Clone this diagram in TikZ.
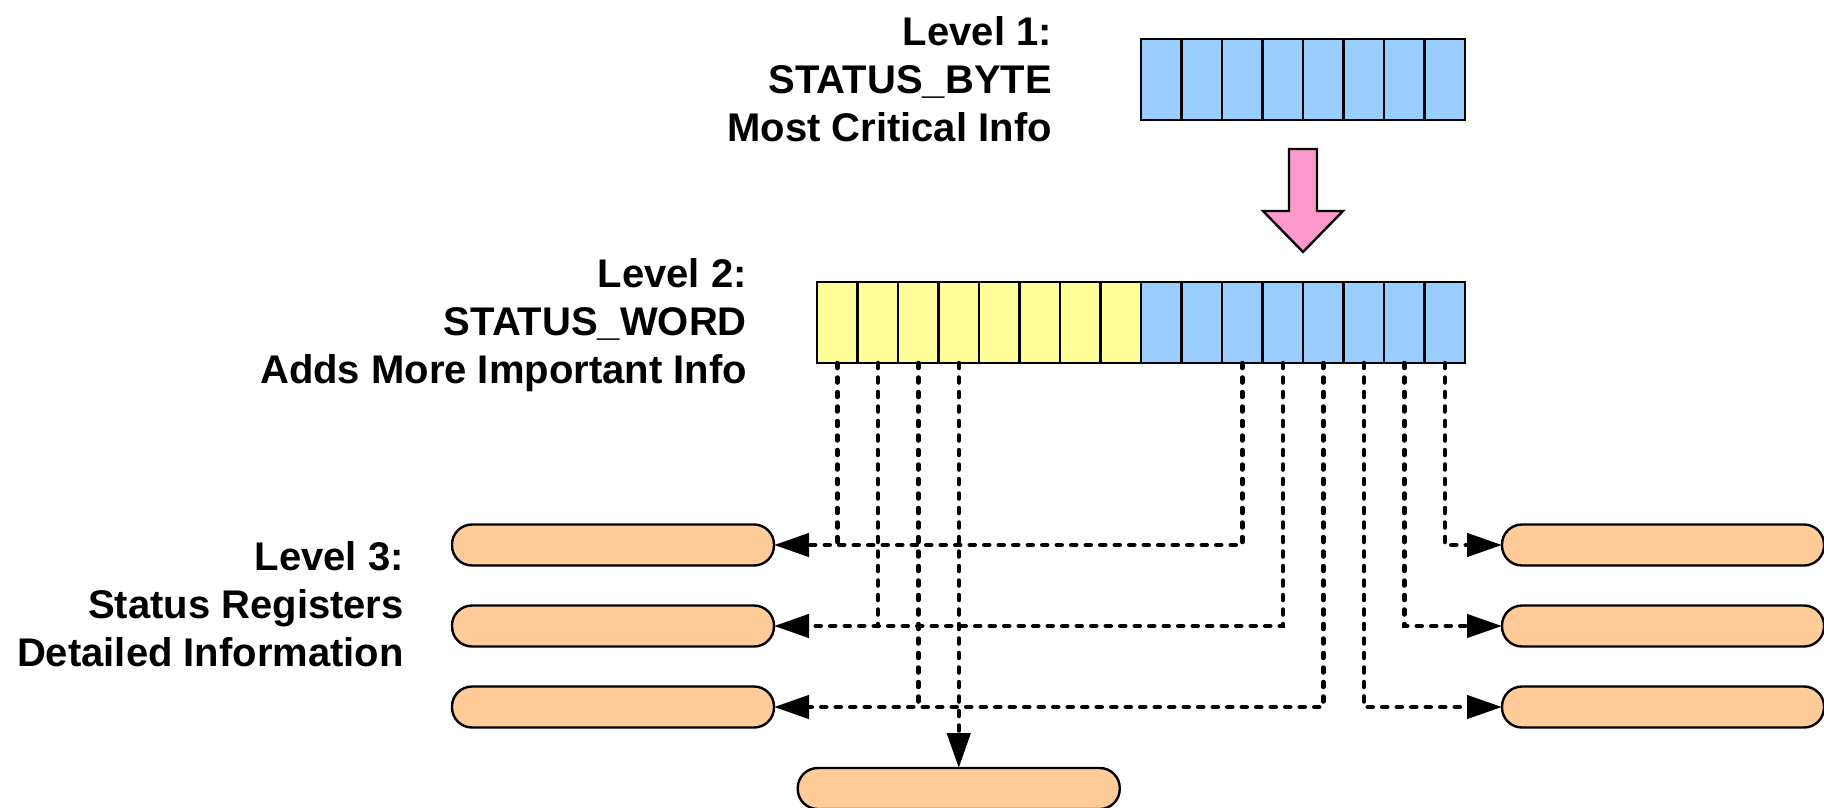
\documentclass[tikz,border=0pt]{standalone}
\usepackage{fontspec}
\setmainfont{Liberation Sans}
\usetikzlibrary{arrows.meta,calc}
\definecolor{regblue}{HTML}{99CCFF}
\definecolor{regyellow}{HTML}{FFFF99}
\definecolor{regorange}{HTML}{FFCC99}
\definecolor{regpink}{HTML}{FF99CC}
\begin{document}
\begin{tikzpicture}[x=1pt,y=-1pt,
  cell/.style={draw=black,line width=2.4pt,minimum width=40.5pt,minimum height=81pt,inner sep=0pt,outer sep=0pt},
  pill/.style={draw=black,line width=2.4pt,fill=regorange,rounded corners=20pt,minimum width=322pt,minimum height=41pt,inner sep=0pt,outer sep=0pt},
  conn/.style={line width=4.5pt,dash pattern=on 5pt off 9.5pt,line cap=round},
  tip/.style={-{Triangle[length=35pt,width=23pt]}},
  lbl/.style={font=\bfseries\fontsize{40}{48}\selectfont,align=right,inner sep=0pt,anchor=north east}
]
\useasboundingbox (0,0) rectangle (1824,808);

% Level 1 register (byte)
\foreach \i in {0,...,7}
  \node[cell,fill=regblue] (b\i) at ({1161.25+40.5*\i},79.5) {};

% Level 2 register (word)
\foreach \i in {0,...,7}
  \node[cell,fill=regyellow] (w\i) at ({837.25+40.5*\i},322.5) {};
\foreach \i in {8,...,15}
  \node[cell,fill=regblue] (w\i) at ({837.25+40.5*\i},322.5) {};

% block arrow
\draw[line width=2.4pt,fill=regpink,line join=miter]
  ($(b3.south east)+(-14,29)$) -- ($(b3.south east)+(14,29)$) --
  ($(b3.south east)+(14,91)$) -- ($(b3.south east)+(40,91)$) --
  ($(b3.south east)+(0,132)$) -- ($(b3.south east)+(-40,91)$) --
  ($(b3.south east)+(-14,91)$) -- cycle;

% Level 3 registers
\node[pill] (L1) at (613,545) {};
\node[pill] (L2) at (613,626) {};
\node[pill] (L3) at (613,707) {};
\node[pill] (B)  at (958.75,788.5) {};
\node[pill] (R1) at (1663,545) {};
\node[pill] (R2) at (1663,626) {};
\node[pill] (R3) at (1663,707) {};

% connectors
\draw[conn] (w0.south) -- (w0.south |- L1.east);
\draw[conn,tip] (w10.south) |- (L1.east);
\draw[conn] (w1.south) -- (w1.south |- L2.east);
\draw[conn,tip] (w11.south) |- (L2.east);
\draw[conn] (w2.south) -- (w2.south |- L3.east);
\draw[conn,tip] (w12.south) |- (L3.east);
\draw[conn,tip] (w3.south) -- (B.north);
\draw[conn,tip] (w15.south) |- (R1.west);
\draw[conn,tip] (w14.south) |- (R2.west);
\draw[conn,tip] (w13.south) |- (R3.west);

% labels
\node[lbl] (t1) at (1052,16.4) {Level 1:\\STATUS\_BYTE\\Most Critical Info};
\node[lbl] (t2) at (747,258.4) {Level 2:\\STATUS\_WORD\\Adds More Important Info};
\node[lbl] (t3) at (404,541.4) {Level 3:\\Status Registers\\Detailed Information};
\end{tikzpicture}
\end{document}
